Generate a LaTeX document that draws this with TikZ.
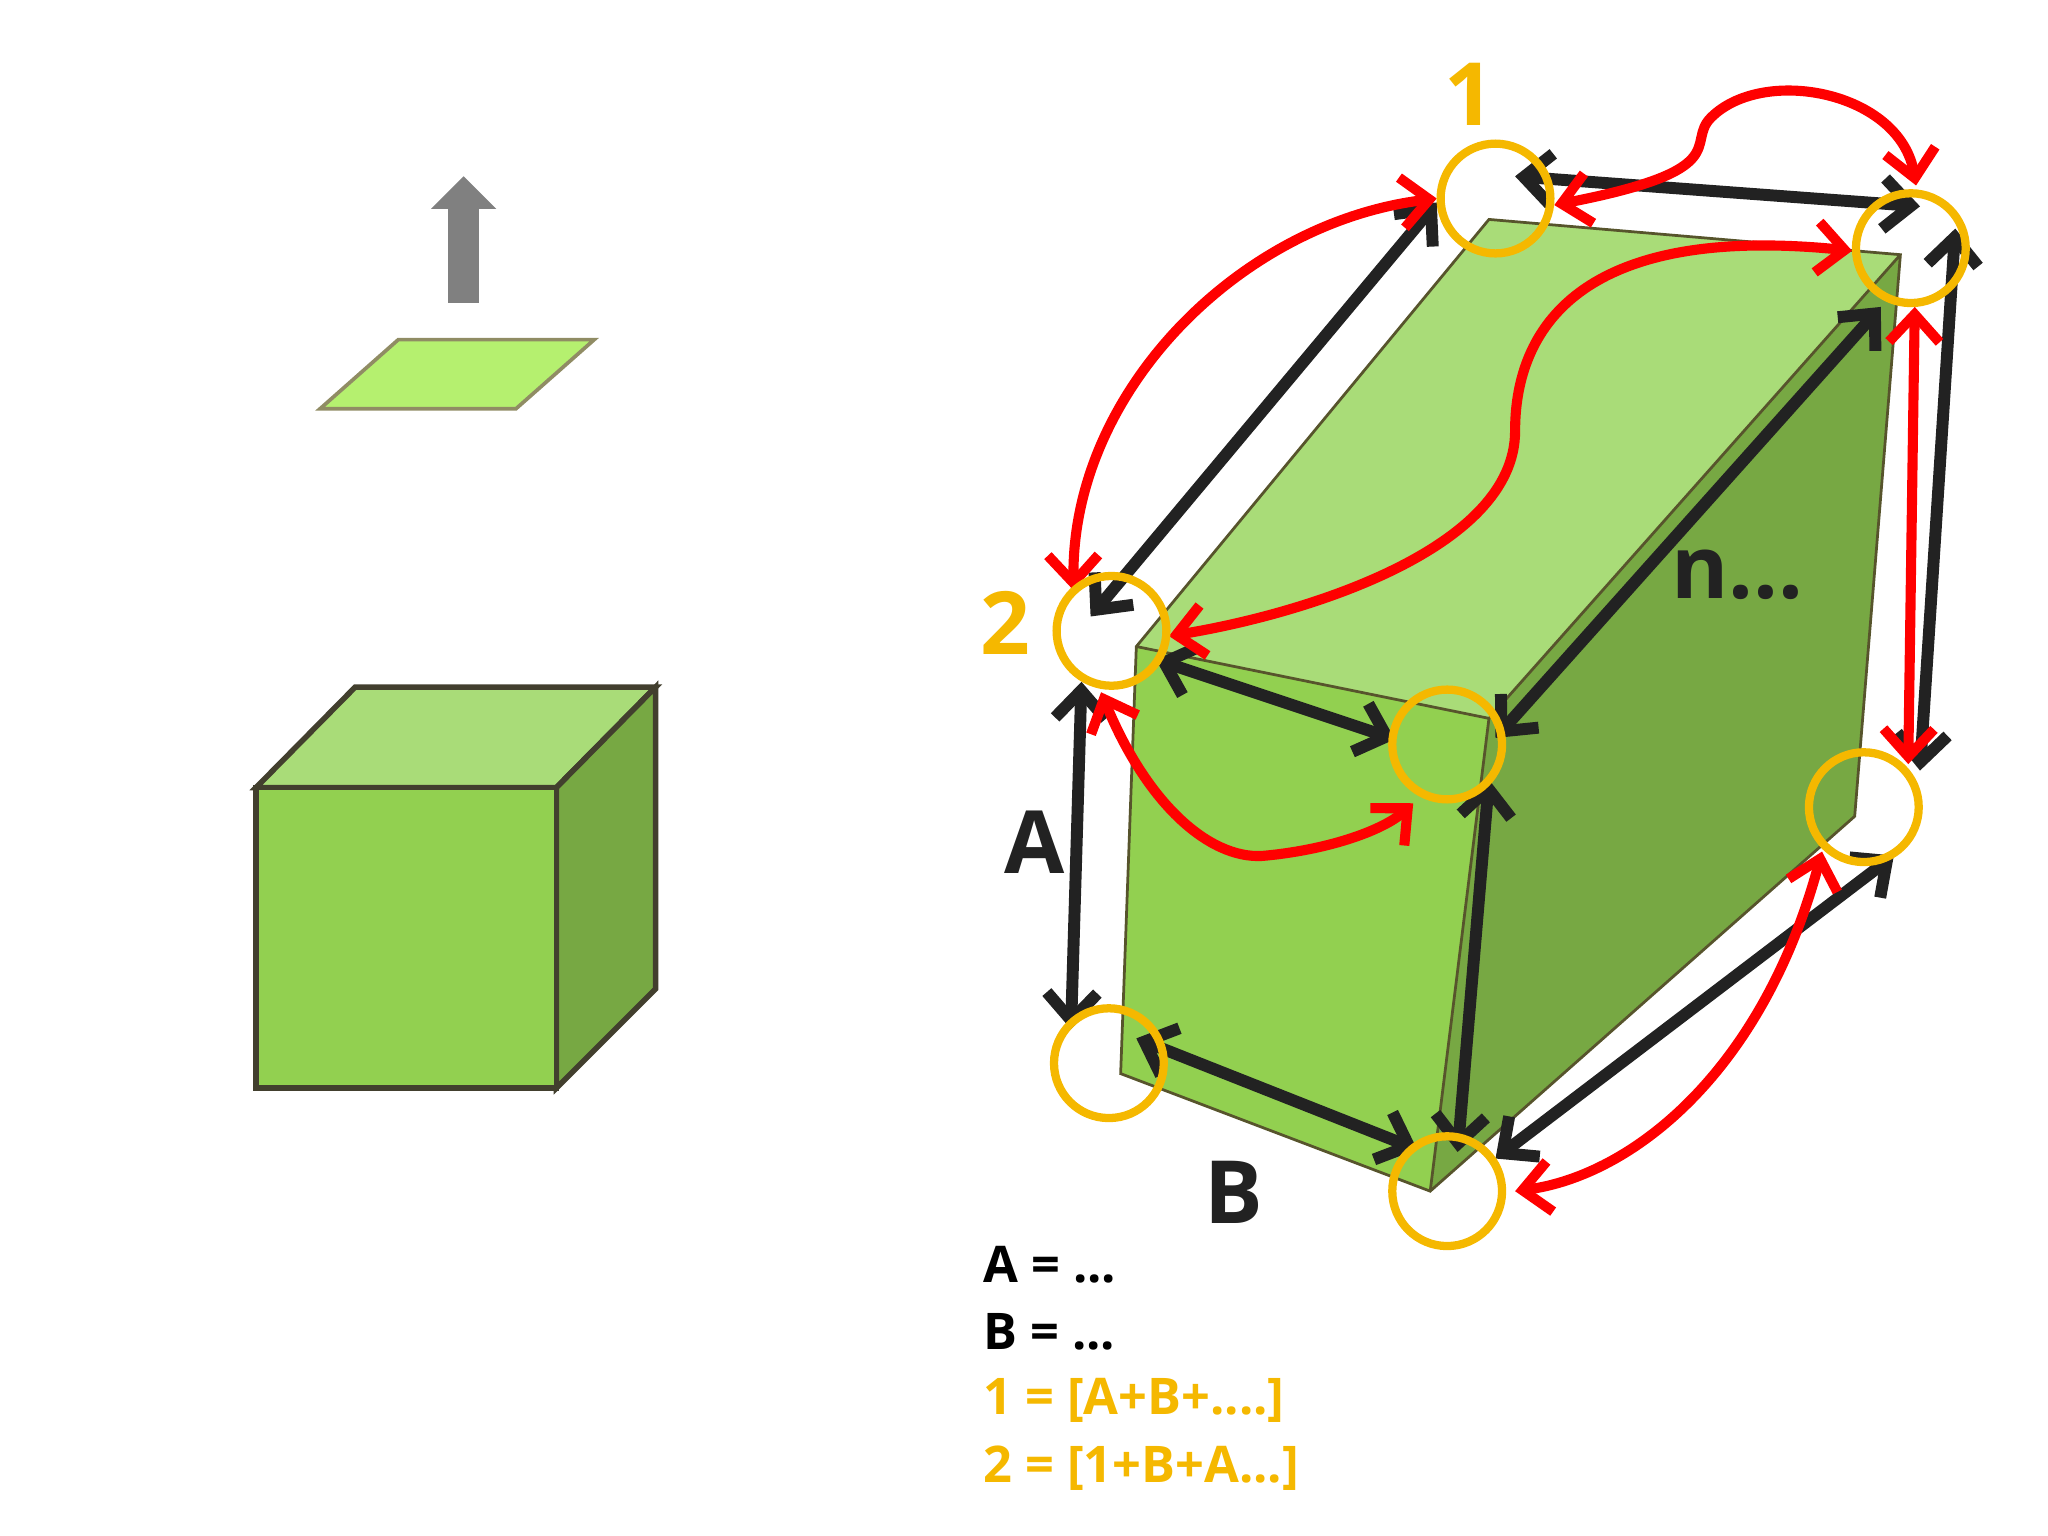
\documentclass[tikz,border=0pt]{standalone}
\usepackage{fontspec}
\setmainfont{Open Sans}
\usetikzlibrary{arrows.meta}
\definecolor{gy}{HTML}{F5B800}
\definecolor{gfront}{HTML}{92D050}
\definecolor{gtop}{HTML}{A9DC78}
\definecolor{gside}{HTML}{77A843}
\definecolor{gpar}{HTML}{B5F06F}
\definecolor{ink}{HTML}{222222}
\begin{document}
\begin{tikzpicture}[x=0.01cm,y=-0.01cm,
 ring/.style={circle,draw=gy,line width=1.8pt,minimum size=0.84cm,inner sep=0pt},
 blk/.style={draw=ink,line width=2.6pt,{Straight Barb[length=6pt,width=11pt]}-{Straight Barb[length=6pt,width=11pt]}},
 red/.style={draw=red,line width=2.2pt,{Straight Barb[length=6pt,width=11pt]}-{Straight Barb[length=6pt,width=11pt]}},
 face/.style={draw=black!70!olive,line width=1.2pt},
 big/.style={font=\bfseries\fontsize{19}{22}\selectfont},
 leg/.style={font=\bfseries\fontsize{11}{13}\selectfont,anchor=west,inner sep=0pt}]
\useasboundingbox (0,0) rectangle (1568,1176);
% left
\fill[gray] (343,232) rectangle (367,158);
\fill[gray] (330,160) -- (355,135) -- (380,160) -- cycle;
\filldraw[fill=gpar,draw=gray!70!olive,line width=0.8pt] (245,313) -- (305,260) -- (455,260) -- (395,313) -- cycle;
\filldraw[face,fill=gtop] (196,603) -- (272,526) -- (502,526) -- (426,603) -- cycle;
\filldraw[face,fill=gside] (426,603) -- (502,526) -- (502,757) -- (426,833) -- cycle;
\filldraw[face,fill=gfront] (196,603) rectangle (426,833);
% right box
\fill[gtop] (870,495) -- (1140,168) -- (1455,195) -- (1140,550) -- cycle;
\fill[gside] (1140,550) -- (1455,195) -- (1420,625) -- (1095,912) -- cycle;
\fill[gfront] (870,495) -- (1140,550) -- (1095,912) -- (858,822) -- cycle;
\draw[black!50!olive,line width=0.6pt] (870,495) -- (1140,168) -- (1455,195) -- (1420,625) -- (1095,912) -- (858,822) -- cycle (870,495) -- (1140,550) -- (1455,195) (1140,550) -- (1095,912);
% coordinates
\coordinate (a12) at (1160,135); \coordinate (b12) at (1470,158);
\coordinate (a13) at (1100,155); \coordinate (b13) at (835,472);
\coordinate (a34) at (885,505); \coordinate (b34) at (1068,566);
\coordinate (a24) at (1440,235); \coordinate (b24) at (1145,565);
\coordinate (a36) at (828,522); \coordinate (b36) at (820,788);
\coordinate (a47) at (1140,597); \coordinate (b47) at (1116,882);
\coordinate (a67) at (870,795); \coordinate (b67) at (1085,880);
\coordinate (a75) at (1145,887); \coordinate (b75) at (1450,655);
\coordinate (a25) at (1497,175); \coordinate (b25) at (1470,590);
\foreach \p in {12,13,34,24,36,47,67,75,25} \draw[blk] (a\p) -- (b\p);
% red
\coordinate (r1a) at (822,452); \coordinate (r1b) at (1100,152);
\draw[red] (r1a) .. controls (820,300) and (950,170) .. (r1b);
\coordinate (r2a) at (1190,157); \coordinate (r2b) at (1467,142);
\draw[red] (r2a) .. controls (1330,130) and (1290,110) .. (1310,90) .. controls (1350,50) and (1455,70) .. (r2b);
\coordinate (r3a) at (1418,192); \coordinate (r3b) at (895,487);
\draw[red] (r3a) .. controls (1200,170) and (1160,260) .. (1160,330) .. controls (1160,420) and (1000,470) .. (r3b);
\coordinate (r4a) at (843,530); \coordinate (r4b) at (1082,615);
\draw[red] (r4a) .. controls (880,620) and (930,660) .. (970,655) .. controls (1020,650) and (1060,635) .. (r4b);
\coordinate (r5a) at (1466,235); \coordinate (r5b) at (1461,585);
\draw[red] (r5a) -- (r5b);
\coordinate (r6a) at (1395,652); \coordinate (r6b) at (1160,912);
\draw[red] (r6a) .. controls (1350,820) and (1250,900) .. (r6b);
% rings
\node[ring] (c1) at (1145,152) {};
\node[ring] (c2) at (1463,190) {};
\node[ring] (c3) at (851,483) {};
\node[ring] (c4) at (1108,570) {};
\node[ring] (c5) at (1427,618) {};
\node[ring] (c6) at (849,814) {};
\node[ring] (c7) at (1108,912) {};
% labels
\node[big,text=gy] (l1) at (1125,72) {1};
\node[big,text=gy] (l2) at (770,477) {2};
\node[big,text=ink] (lA) at (792,645) {A};
\node[big,text=ink] (lB) at (945,913) {B};
\node[big,text=ink] (ln) at (1330,440) {n...};
\node[leg,text=black] (e1) at (752,968) {A = ...};
\node[leg,text=black] (e2) at (752,1020) {B = ...};
\node[leg,text=gy] (e3) at (752,1072) {1 = [A+B+....]};
\node[leg,text=gy] (e4) at (752,1124) {2 = [1+B+A...]};
\end{tikzpicture}
\end{document}
